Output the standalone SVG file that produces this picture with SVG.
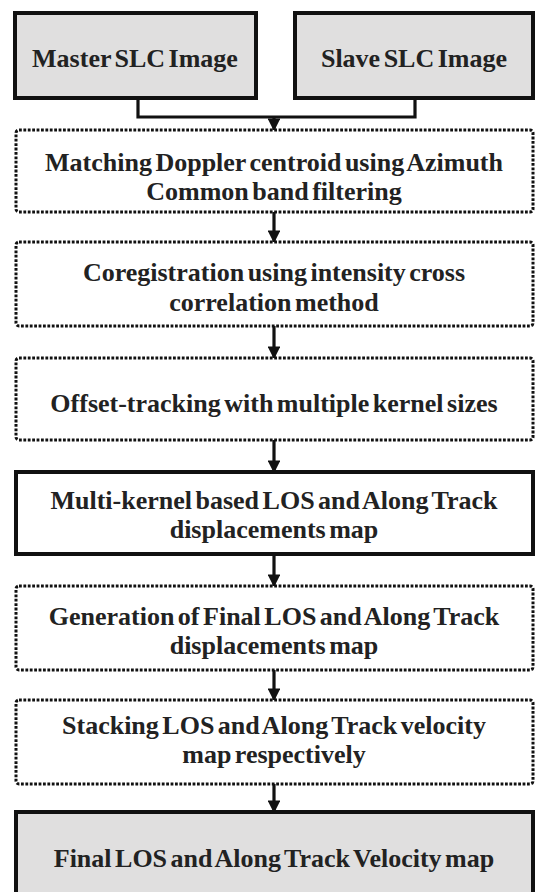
<svg xmlns="http://www.w3.org/2000/svg" width="536" height="892" viewBox="0 0 536 892">
  <style>
    .solid { fill: #ffffff; stroke: #111111; stroke-width: 4; }
    .shaded { fill: #e0dfdf; stroke: #111111; stroke-width: 4; }
    .dotted { fill: #ffffff; stroke: #111111; stroke-width: 3; stroke-dasharray: 2.8 1.6; }
    .label { font-family: "Liberation Serif", "Times New Roman", serif; font-weight: bold; font-size: 26px; fill: #222222; text-anchor: middle; word-spacing: -3px; }
    .wire { fill: none; stroke: #111111; stroke-width: 3.2; }
  </style>
  <defs>
    <marker id="arrow" viewBox="0 0 10 10" refX="9" refY="5" markerWidth="4" markerHeight="4" orient="auto" markerUnits="strokeWidth">
      <path d="M0,0 L10,5 L0,10 Z" fill="#111111"/>
    </marker>
  </defs>
  <rect width="536" height="892" fill="#ffffff"/>

  <g id="connectors">
    <path class="wire" d="M138,98 V117 H415 V98"/>
    <line class="wire" x1="274" y1="117" x2="274" y2="130" marker-end="url(#arrow)"/>
    <line class="wire" x1="274" y1="212" x2="274" y2="242" marker-end="url(#arrow)"/>
    <line class="wire" x1="274" y1="326" x2="274" y2="358" marker-end="url(#arrow)"/>
    <line class="wire" x1="274" y1="440" x2="274" y2="472" marker-end="url(#arrow)"/>
    <line class="wire" x1="274" y1="554" x2="274" y2="586" marker-end="url(#arrow)"/>
    <line class="wire" x1="274" y1="670" x2="274" y2="700" marker-end="url(#arrow)"/>
    <line class="wire" x1="274" y1="784" x2="274" y2="812" marker-end="url(#arrow)"/>
  </g>

  <g id="master">
    <rect class="shaded" x="15" y="13" width="241" height="85"/>
    <text class="label" x="135" y="67">Master SLC Image</text>
  </g>
  <g id="slave">
    <rect class="shaded" x="295" y="13" width="238" height="85"/>
    <text class="label" x="414" y="67">Slave SLC Image</text>
  </g>

  <g id="doppler">
    <rect class="dotted" x="16" y="130" width="517" height="82" rx="3"/>
    <text class="label" x="274" y="171">Matching Doppler centroid using Azimuth</text>
    <text class="label" x="274" y="200">Common band filtering</text>
  </g>

  <g id="coregistration">
    <rect class="dotted" x="16" y="242" width="517" height="84" rx="3"/>
    <text class="label" x="274" y="281">Coregistration using intensity cross</text>
    <text class="label" x="274" y="311">correlation method</text>
  </g>

  <g id="offset-tracking">
    <rect class="dotted" x="16" y="358" width="517" height="82" rx="3"/>
    <text class="label" x="274" y="412">Offset-tracking with multiple kernel sizes</text>
  </g>

  <g id="multi-kernel">
    <rect class="solid" x="16" y="472" width="517" height="82"/>
    <text class="label" x="274" y="509">Multi-kernel based LOS and Along Track</text>
    <text class="label" x="274" y="538">displacements map</text>
  </g>

  <g id="final-displacement">
    <rect class="dotted" x="16" y="586" width="517" height="84" rx="3"/>
    <text class="label" x="274" y="625">Generation of Final LOS and Along Track</text>
    <text class="label" x="274" y="654">displacements map</text>
  </g>

  <g id="stacking">
    <rect class="dotted" x="16" y="700" width="517" height="84" rx="3"/>
    <text class="label" x="274" y="734">Stacking LOS and Along Track velocity</text>
    <text class="label" x="274" y="763">map respectively</text>
  </g>

  <g id="velocity-map">
    <rect class="shaded" x="16" y="812" width="517" height="90"/>
    <text class="label" x="274" y="867">Final LOS and Along Track Velocity map</text>
  </g>
</svg>
